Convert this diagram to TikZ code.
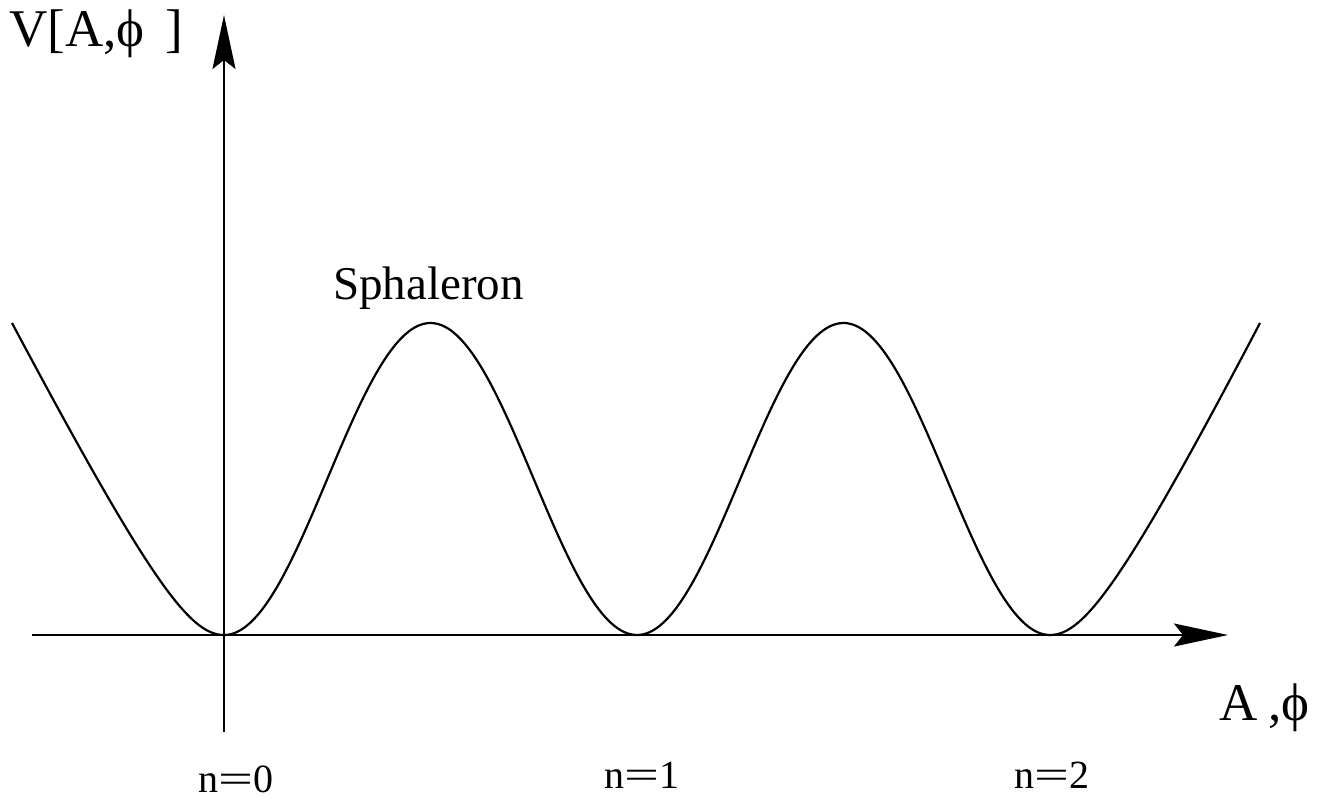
\documentclass[tikz,border=0pt]{standalone}
\usepackage{fontspec}
\usepackage{graphicx}
\setmainfont{Liberation Serif}
\usetikzlibrary{arrows.meta}
\newcommand{\wideeq}{\scalebox{1.55}[1]{=}}
\begin{document}
\begin{tikzpicture}[x=1pt,y=-1pt,
  axis/.style={line width=2.2pt, -{Stealth[length=54pt,width=23pt,inset=9pt]}},
  curve/.style={line width=2.2pt},
  biglabel/.style={inner sep=0pt, font=\fontsize{53}{60}\selectfont},
  midlabel/.style={inner sep=0pt, font=\fontsize{47}{54}\selectfont},
  nlabel/.style={inner sep=0pt, font=\fontsize{40}{46}\selectfont}]
\useasboundingbox (0,0) rectangle (1326,803);
% axes
\coordinate (xs) at (32,635);
\coordinate (xe) at (1228,635);
\coordinate (ys) at (224,732);
\coordinate (ye) at (224,15);
\draw[axis] (xs) -- (xe);
\draw[axis] (ys) -- (ye);
% potential curve
\coordinate (m0) at (224,635);
\coordinate (m2) at (1050,635);
\coordinate (lend) at (12,323);
\coordinate (rend) at (1260,323);
\draw[curve] (lend) .. controls (150,582) and (190,635) .. (m0);
\draw[curve] plot[domain=224:1050, samples=300, smooth] (\x, {635-156*(1-cos(0.871671*(\x-224)))});
\draw[curve] (m2) .. controls (1084,635) and (1124,582) .. (rend);
% labels
\node[biglabel, anchor=base west] (vlab) at (9,46) {V[A,ϕ\hspace{0.4em}]};
\node[midlabel, anchor=base] (sph) at (428.5,299) {Sphaleron};
\node[biglabel, anchor=base west] (alab) at (1219,720) {A\hspace{0.2em},ϕ};
\node[nlabel, anchor=base] (n0) at (236,792) {n\wideeq0};
\node[nlabel, anchor=base] (n1) at (642,788) {n\wideeq1};
\node[nlabel, anchor=base] (n2) at (1052,788) {n\wideeq2};
\end{tikzpicture}
\end{document}
